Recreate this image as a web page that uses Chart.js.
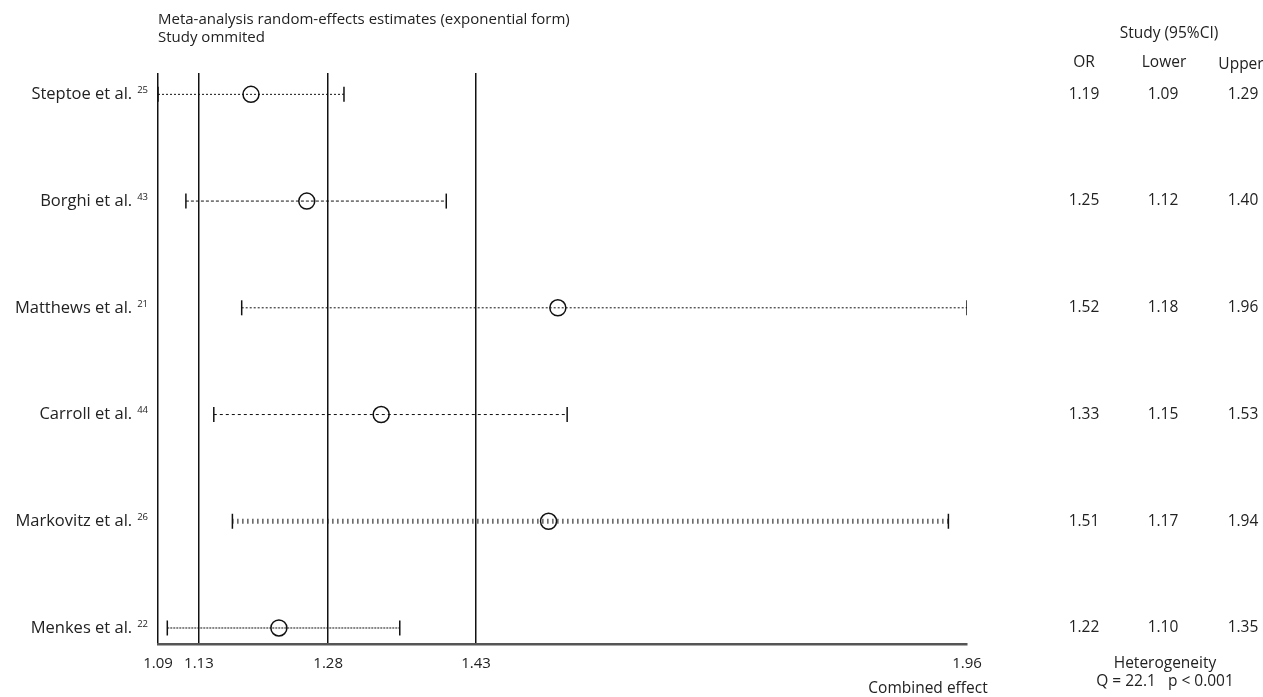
<!DOCTYPE html>
<html>
<head>
<meta charset="utf-8">
<script src="https://cdn.jsdelivr.net/npm/chart.js@4"></script>
<style>
  html, body { margin: 0; padding: 0; background: #fff; }
  #wrap { width: 1263px; height: 697px; }
</style>
</head>
<body>
<div id="wrap"><canvas id="forest"></canvas></div>
<script>
// studies, omitted one at a time
var studies = ['Steptoe et al.', 'Borghi et al.', 'Matthews et al.', 'Carroll et al.', 'Markovitz et al.', 'Menkes et al.'];
var refs = ['25', '43', '21', '44', '26', '22'];
var orValues = [1.19, 1.25, 1.52, 1.33, 1.51, 1.22];
var lowerValues = [1.09, 1.12, 1.18, 1.15, 1.17, 1.10];
var upperValues = [1.29, 1.40, 1.96, 1.53, 1.94, 1.35];

// axis ticks (positions) and their printed labels
var tickValues = [1.09, 1.134, 1.273, 1.432, 1.96];
var tickLabels = ['1.09', '1.13', '1.28', '1.43', '1.96'];

var heterogeneityQ = '22.1';
var heterogeneityP = '< 0.001';

var FONT = '"Open Sans"';
var dashes = [[2, 2], [3, 2], [2, 2], [3, 3], [1, 4], [2, 1]];

var datasets = [];
studies.forEach(function(s, i) {
  var hatched = (i == 4);
  datasets.push({
    type: 'line',
    data: [{x: lowerValues[i], y: i}, {x: upperValues[i], y: i}],
    borderColor: '#111',
    borderWidth: hatched ? 5 : 1,
    borderDash: dashes[i],
    pointStyle: 'line',
    pointRotation: 90,
    pointRadius: 7.5,
    pointBorderWidth: 1.5,
    pointBorderColor: '#111',
    fill: false
  });
});
datasets.push({
  type: 'scatter',
  data: orValues.map(function(v, i) { return {x: v, y: i}; }),
  pointStyle: 'circle',
  pointRadius: 8,
  pointBorderWidth: 1.5,
  pointBorderColor: '#111',
  pointBackgroundColor: 'rgba(0,0,0,0)'
});

// texts round the plot
var textPlugin = {
  id: 'forestText',
  afterDraw: function(chart) {
    var ctx = chart.ctx;
    var area = chart.chartArea;
    var ys = chart.scales.y;
    ctx.save();
    ctx.fillStyle = '#222';
    ctx.textBaseline = 'middle';
    ctx.font = '15px ' + FONT;
    ctx.textAlign = 'left';
    ctx.fillText('Meta-analysis random-effects estimates (exponential form)', area.left, 20);
    ctx.fillText('Study ommited', area.left, 38);

    studies.forEach(function(s, i) {
      var y = ys.getPixelForValue(i);
      ctx.font = '9.5px ' + FONT;
      ctx.textAlign = 'right';
      var supW = ctx.measureText(refs[i]).width;
      ctx.fillText(refs[i], 148, y - 4);
      ctx.font = '16.5px ' + FONT;
      ctx.fillText(s, 148 - supW - 5, y);

      ctx.font = '15.5px ' + FONT;
      ctx.textAlign = 'center';
      ctx.fillText(orValues[i].toFixed(2), 1084, y);
      ctx.fillText(lowerValues[i].toFixed(2), 1163, y);
      ctx.fillText(upperValues[i].toFixed(2), 1243, y);
    });

    ctx.font = '15.5px ' + FONT;
    ctx.textAlign = 'center';
    ctx.fillText('Study (95%CI)', 1169, 34);
    ctx.fillText('OR', 1084, 63);
    ctx.fillText('Lower', 1164, 63);
    ctx.fillText('Upper', 1241, 65);
    ctx.fillText('Heterogeneity', 1165, 664);
    ctx.fillText('Q = ' + heterogeneityQ + '   p ' + heterogeneityP, 1165, 682);
    ctx.fillText('Combined effect', 928, 689);
    ctx.restore();
  }
};

new Chart(document.getElementById('forest'), {
  data: {datasets: datasets},
  options: {
    responsive: true,
    maintainAspectRatio: false,
    animation: false,
    layout: {padding: {left: 158, right: 296, top: 73, bottom: 13}},
    plugins: {legend: {display: false}, tooltip: {enabled: false}},
    scales: {
      x: {
        type: 'linear',
        min: 1.09,
        max: 1.96,
        afterBuildTicks: function(axis) {
          axis.ticks = tickValues.map(function(v) { return {value: v}; });
        },
        ticks: {
          autoSkip: false,
          maxRotation: 0,
          padding: 11,
          color: '#222',
          font: {family: 'Open Sans', size: 15},
          callback: function(v, idx) { return tickLabels[idx]; }
        },
        grid: {
          drawTicks: false,
          tickLength: 0,
          lineWidth: 1.5,
          color: function(c) { return c.index == tickValues.length - 1 ? 'rgba(0,0,0,0)' : '#111'; }
        },
        border: {display: true, color: '#555', width: 2.5}
      },
      y: {
        type: 'linear',
        display: false,
        reverse: true,
        min: -0.2,
        max: 5.15
      }
    }
  },
  plugins: [textPlugin]
});
</script>
</body>
</html>
